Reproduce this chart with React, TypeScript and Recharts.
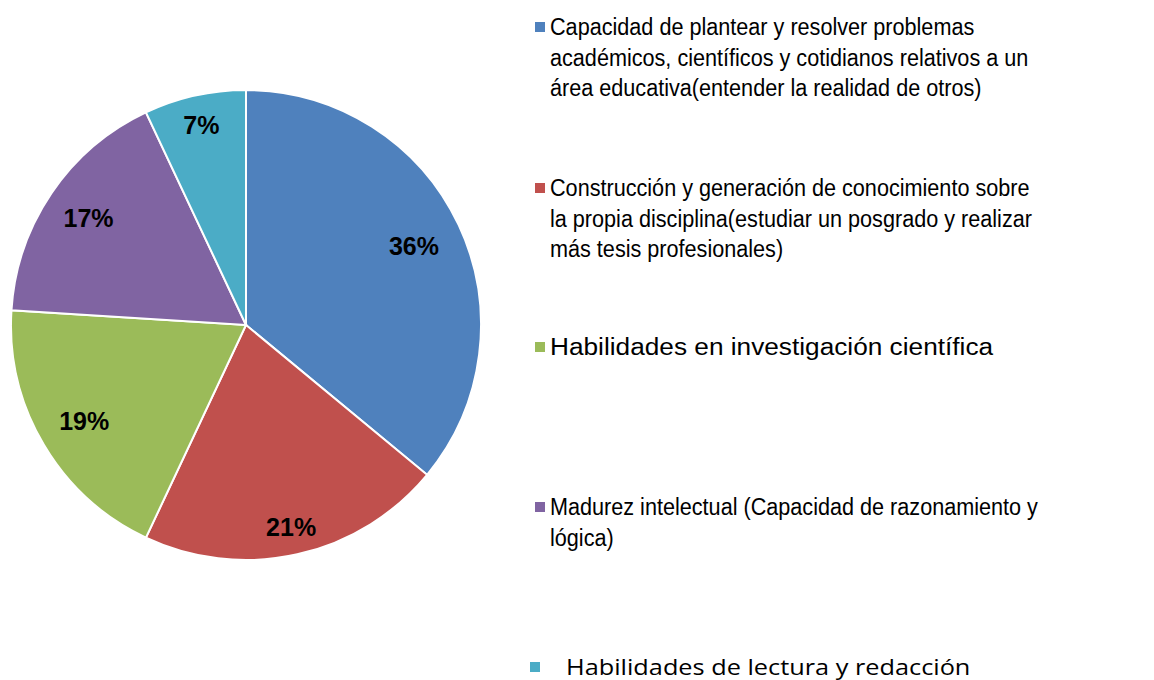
import { PieChart, Pie, Cell } from "recharts";

const categories = [
  "Capacidad de plantear y resolver problemas académicos, científicos y cotidianos relativos a un área educativa(entender la realidad de otros)",
  "Construcción y generación de conocimiento sobre la propia disciplina(estudiar un posgrado y realizar más tesis profesionales)",
  "Habilidades en investigación científica",
  "Madurez intelectual (Capacidad de razonamiento y lógica)",
  "Habilidades de lectura y redacción",
];
const values = [36, 21, 19, 17, 7];
const colors = ["#4F81BD", "#C0504D", "#9BBB59", "#8064A2", "#4BACC6"];
const labelRadius = [0.79, 0.88, 0.8, 0.81, 0.87];

// legend text broken into lines the way the original wraps them
const legendLines = [
  ["Capacidad de plantear y resolver problemas", "académicos, científicos y cotidianos relativos a un", "área educativa(entender la realidad de otros)"],
  ["Construcción y generación de conocimiento sobre", "la propia disciplina(estudiar un posgrado y realizar", "más tesis profesionales)"],
  ["Habilidades en investigación científica"],
  ["Madurez intelectual (Capacidad de razonamiento y", "lógica)"],
  ["Habilidades de lectura y redacción"],
];
const legendTop = [12, 173, 332, 492, 654];
// the source squeezes / stretches some entries horizontally
const legendStretch = [0.94, 0.94, 1.14, 0.94, 1.1];

const data = categories.map((name, i) => ({ name, value: values[i] }));

const RAD = Math.PI / 180;

function renderLabel(props: any) {
  const { cx, cy, midAngle, outerRadius, index, value } = props;
  const r = outerRadius * labelRadius[index];
  const x = cx + r * Math.cos(-midAngle * RAD);
  const y = cy + r * Math.sin(-midAngle * RAD);
  return (
    <text
      x={x}
      y={y}
      textAnchor="middle"
      dominantBaseline="central"
      fill="#000"
      fontFamily="'Liberation Sans', Arial, sans-serif"
      fontWeight="bold"
      fontSize={25}
    >
      {value}%
    </text>
  );
}

export default function App() {
  return (
    <div style={{ position: "absolute", left: 0, top: 0, width: 1154, height: 680, background: "#fff", overflow: "hidden" }}>
      <div style={{ position: "absolute", left: 0, top: 0 }}>
        <PieChart width={500} height={680} margin={{ top: 0, right: 0, bottom: 0, left: 0 }}>
          <Pie
            data={data}
            dataKey="value"
            cx={246}
            cy={325}
            outerRadius={235}
            startAngle={90}
            endAngle={-270}
            stroke="#fff"
            strokeWidth={2}
            label={renderLabel}
            labelLine={false}
            isAnimationActive={false}
          >
            {data.map((d, i) => (
              <Cell key={d.name} fill={colors[i]} />
            ))}
          </Pie>
        </PieChart>
      </div>
      {legendLines.map((lines, i) => {
        const last = i === legendLines.length - 1;
        return (
          <div
            key={i}
            style={{
              position: "absolute",
              left: last ? 530 : 535,
              top: legendTop[i],
              fontFamily: last ? "'Open Sans', 'Noto Sans', sans-serif" : "'Liberation Sans', Arial, sans-serif",
              fontSize: last ? 22 : 23,
              lineHeight: last ? "25px" : "30.5px",
              color: "#000",
              whiteSpace: "nowrap",
            }}
          >
            <span
              style={{
                position: "absolute",
                left: 0,
                top: last ? 8 : 10,
                width: 10,
                height: 10,
                background: colors[i],
              }}
            />
            <div
              style={{
                marginLeft: last ? 36 : 15,
                transform: `scaleX(${last ? 1.15 : legendStretch[i]})`,
                transformOrigin: "left center",
              }}
            >
              {lines.map((l) => (
                <div key={l}>{l}</div>
              ))}
            </div>
          </div>
        );
      })}
    </div>
  );
}
